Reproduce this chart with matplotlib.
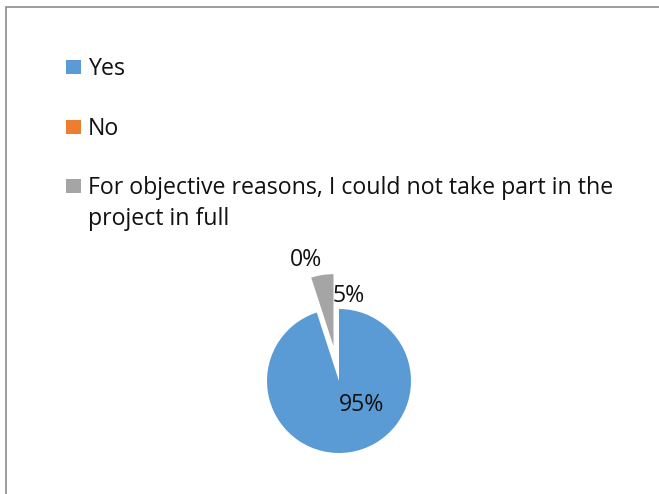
import matplotlib
matplotlib.use("Agg")
import matplotlib.pyplot as plt
from matplotlib.patches import Rectangle

W, H = 659, 494

categories = ["Yes", "No", "For objective reasons, I could not take part in the\nproject in full"]
shares = [95, 0, 5]
colors = ["#5B9BD5", "#ED7D31", "#A5A5A5"]
explode = [0, 0, 0.49]
# label centres in pie-radius units
label_pos = [(0.32, -0.33), (-0.46, 1.68), (0.14, 1.18)]

plt.rcParams["font.family"] = ["Open Sans", "DejaVu Sans"]
FS = 16.7


def px(x, y):
    return x / W, 1 - y / H


fig = plt.figure(figsize=(W / 100, H / 100), dpi=100)

# chart frame (runs off the right and bottom edges)
fig.patches.append(Rectangle(px(5.5, 700), 800 / W, 692.5 / H, transform=fig.transFigure,
                             fill=False, edgecolor="#8c8c8c", linewidth=1.2))

# legend: one row per category, wrapped names continue 31 px lower
baselines = [75, 135, 194]
for name, col, yb in zip(categories, colors, baselines):
    fig.patches.append(Rectangle(px(66, yb - 1), 15 / W, 14 / H, transform=fig.transFigure,
                                 facecolor=col, edgecolor="none"))
    for i, line in enumerate(name.split("\n")):
        fig.text(*px(88, yb + 31 * i), line, fontsize=FS, va="baseline", ha="left",
                 color="#111111")

# pie: centre (339, 381), radius 72 px
cx, cy, r = 339, 381, 72
span = 2 * r * 2
ax = fig.add_axes([(cx - span / 2) / W, (H - cy - span / 2) / H, span / W, span / H])
ax.pie(shares, colors=colors, startangle=90, counterclock=False, explode=explode,
       radius=1, wedgeprops=dict(linewidth=0))
ax.set_xlim(-2, 2)
ax.set_ylim(-2, 2)
ax.set_aspect("equal")
ax.axis("off")

for v, (lx, ly) in zip(shares, label_pos):
    ax.text(lx, ly, f"{v}%", fontsize=FS, ha="center", va="center", color="#111111")

fig.savefig("out.png", dpi=100)
